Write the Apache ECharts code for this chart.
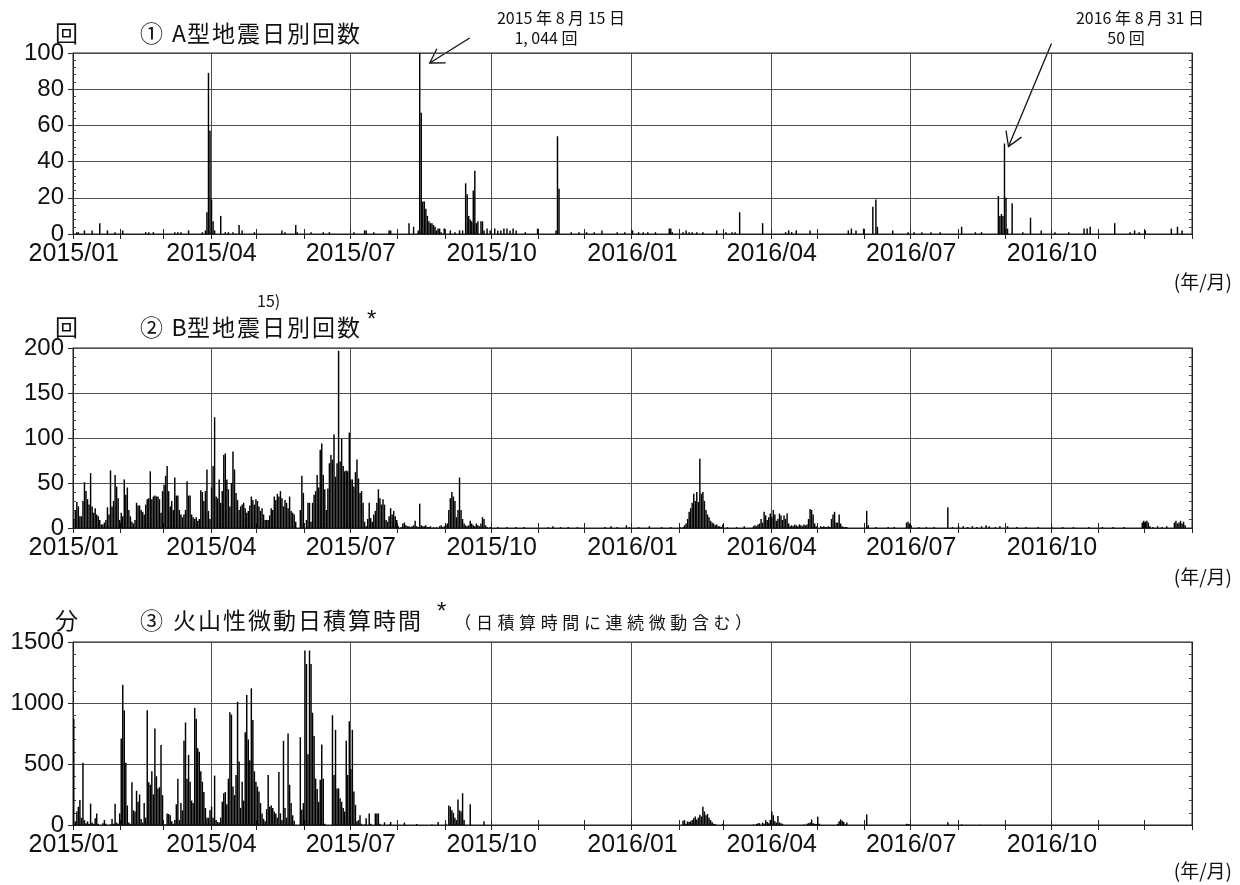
<!DOCTYPE html>
<html>
<head>
<meta charset="utf-8">
<script src="https://cdn.jsdelivr.net/npm/echarts@6/dist/echarts.min.js"></script>
<style>
html, body { margin: 0; padding: 0; background: #fff; }
#chart { width: 1240px; height: 885px; }
</style>
</head>
<body>
<div id="chart"></div>
<script>
// ---------------- Daily observation data (2015-01-01 .. 2016-12-31) ----------------

// (1) A-type earthquakes per day: sparse [date, count] records
const aTypeCounts = [
  ['2015-01-03', 1], ['2015-01-04', 1], ['2015-01-08', 2], ['2015-01-13', 2], ['2015-01-18', 6],
  ['2015-01-23', 2], ['2015-01-28', 1], ['2015-02-02', 2], ['2015-02-17', 1], ['2015-02-19', 1],
  ['2015-02-22', 1], ['2015-03-08', 1], ['2015-03-10', 1], ['2015-03-12', 1], ['2015-03-17', 2],
  ['2015-03-26', 1], ['2015-03-28', 2], ['2015-03-29', 12], ['2015-03-30', 89], ['2015-03-31', 57],
  ['2015-04-01', 19], ['2015-04-02', 7], ['2015-04-03', 2], ['2015-04-07', 10], ['2015-04-10', 1],
  ['2015-04-12', 1], ['2015-04-15', 1], ['2015-04-19', 5], ['2015-04-21', 2], ['2015-04-29', 1],
  ['2015-05-17', 2], ['2015-05-19', 1], ['2015-05-26', 5], ['2015-05-27', 1], ['2015-06-05', 1],
  ['2015-06-13', 1], ['2015-06-17', 1], ['2015-07-03', 1], ['2015-07-10', 2], ['2015-07-11', 2],
  ['2015-07-16', 1], ['2015-07-26', 2], ['2015-07-27', 2], ['2015-08-08', 6], ['2015-08-11', 4],
  ['2015-08-14', 2], ['2015-08-15', 1044], ['2015-08-16', 67], ['2015-08-17', 18], ['2015-08-18', 18],
  ['2015-08-19', 14], ['2015-08-20', 10], ['2015-08-21', 7], ['2015-08-22', 6], ['2015-08-23', 6],
  ['2015-08-24', 5], ['2015-08-25', 4], ['2015-08-26', 2], ['2015-08-27', 3], ['2015-08-28', 3],
  ['2015-08-29', 1], ['2015-08-31', 3], ['2015-09-04', 2], ['2015-09-07', 1], ['2015-09-10', 2],
  ['2015-09-12', 2], ['2015-09-14', 28], ['2015-09-15', 22], ['2015-09-16', 10], ['2015-09-17', 8],
  ['2015-09-18', 7], ['2015-09-19', 24], ['2015-09-20', 35], ['2015-09-21', 6], ['2015-09-22', 7],
  ['2015-09-24', 7], ['2015-09-25', 7], ['2015-09-26', 2], ['2015-09-28', 3], ['2015-09-30', 2],
  ['2015-10-03', 3], ['2015-10-05', 2], ['2015-10-07', 2], ['2015-10-09', 3], ['2015-10-11', 3],
  ['2015-10-13', 2], ['2015-10-15', 3], ['2015-10-17', 2], ['2015-10-23', 1], ['2015-10-31', 3],
  ['2015-11-12', 2], ['2015-11-13', 54], ['2015-11-14', 25], ['2015-11-22', 1], ['2015-11-27', 1],
  ['2015-12-02', 1], ['2015-12-07', 1], ['2015-12-12', 2], ['2015-12-22', 1], ['2015-12-27', 1],
  ['2016-01-01', 2], ['2016-01-05', 1], ['2016-01-08', 1], ['2016-01-11', 1], ['2016-01-16', 1],
  ['2016-01-25', 3], ['2016-01-26', 3], ['2016-01-27', 1], ['2016-02-03', 1], ['2016-02-05', 2],
  ['2016-02-07', 1], ['2016-02-09', 1], ['2016-02-12', 1], ['2016-02-16', 1], ['2016-02-25', 2],
  ['2016-03-02', 1], ['2016-03-06', 1], ['2016-03-08', 1], ['2016-03-11', 12], ['2016-03-26', 6],
  ['2016-04-10', 1], ['2016-04-12', 2], ['2016-04-14', 1], ['2016-04-17', 2], ['2016-04-26', 2],
  ['2016-05-21', 2], ['2016-05-23', 3], ['2016-05-26', 2], ['2016-05-31', 3], ['2016-06-06', 15],
  ['2016-06-08', 19], ['2016-06-09', 4], ['2016-06-19', 2], ['2016-06-29', 1], ['2016-07-03', 1],
  ['2016-07-08', 1], ['2016-07-14', 1], ['2016-07-20', 1], ['2016-08-03', 4], ['2016-08-12', 1],
  ['2016-08-16', 1], ['2016-08-27', 21], ['2016-08-28', 10], ['2016-08-29', 11], ['2016-08-30', 10],
  ['2016-08-31', 50], ['2016-09-01', 20], ['2016-09-02', 3], ['2016-09-05', 17], ['2016-09-12', 1],
  ['2016-09-17', 9], ['2016-09-24', 2], ['2016-10-03', 1], ['2016-10-12', 1], ['2016-10-22', 3],
  ['2016-10-24', 3], ['2016-10-26', 4], ['2016-11-11', 6], ['2016-11-21', 1], ['2016-11-24', 2],
  ['2016-11-27', 1], ['2016-12-01', 2], ['2016-12-18', 3], ['2016-12-22', 4], ['2016-12-25', 2]
];

// (2) B-type earthquakes per day, one array per month of 2015 (Jan..Sep)
const bJan2015 = [10,20,29,24,13,13,30,51,41,32,26,61,24,17,22,15,13,9,4,4,6,9,23,15,64,24,30,59,46,33,9];
const bFeb2015 = [17,13,54,37,45,20,13,7,5,9,28,25,25,20,18,15,26,32,33,63,32,35,36,35,35,32,17,41];
const bMar2015 = [48,58,69,41,24,30,20,56,36,36,20,15,12,15,20,52,36,36,15,12,10,12,8,10,42,40,30,41,65,19,10];
const bApr2015 = [45,69,123,35,33,54,28,41,81,83,54,43,24,50,85,65,39,31,20,24,26,28,22,17,19,25,35,31,26,32];
const bMay2015 = [30,24,19,22,15,9,9,9,14,22,20,35,31,38,35,41,33,24,31,28,22,35,19,17,15,7,0,0,20,58,39];
const bJun2015 = [0,9,28,28,7,28,37,41,59,45,87,94,59,43,20,44,72,81,76,104,57,72,197,74,99,69,63,64,63,106];
const bJul2015 = [54,54,46,62,76,55,39,41,28,7,2,10,28,11,7,15,19,28,43,33,26,32,26,9,7,13,22,15,19,13,9];
const bAug2015 = [2,0,1,5,6,3,2,2,1,2,3,8,2,1,27,3,2,2,3,1,1,2,0,1,0,1,0,2,3,1,2];
const bSep2015 = [3,5,20,33,40,35,30,12,20,56,20,10,5,3,2,3,8,5,3,2,5,3,2,5,12,10,3,1,0,1];
// B-type, 2016 swarm periods (consecutive days from the given start)
const bFeb2016 = [1,0,1,3,5,10,18,22,28,38,30,40,29,77,38,40,30,20,15,12,8,6,5,3,4,2,2,1,4];
const bMarApr2016 = [2,3,2,4,5,10,6,18,14,9,12,16,12,20,15,8,10,16,14,9,14,10,16,5,2,3,2,4,3,2,4,3,2,4,3,4,10,21,20,15,5,2];
const bMay2016 = [2,1,2,1,1,2,1,10,15,18,6,6,15,5,2,1,1,1];
const bLateNov2016 = [6,8,7,8,6,2];
const bDec2016 = [6,8,5,6,8,5,7,3];
// B-type, scattered single days
const bTypeScattered = [
  ['2015-10-05', 1], ['2015-10-11', 1], ['2015-10-17', 1], ['2015-10-22', 1], ['2015-11-07', 1],
  ['2015-11-10', 2], ['2015-11-15', 1], ['2015-11-20', 1], ['2015-11-26', 1], ['2015-12-14', 1],
  ['2015-12-18', 2], ['2015-12-22', 1], ['2015-12-28', 3], ['2015-12-30', 1], ['2016-01-05', 1],
  ['2016-01-12', 2], ['2016-01-20', 1], ['2016-01-26', 1], ['2016-03-03', 1], ['2016-03-09', 1],
  ['2016-03-14', 2], ['2016-06-02', 19], ['2016-06-03', 3], ['2016-06-08', 1], ['2016-06-16', 1],
  ['2016-06-20', 1], ['2016-06-28', 6], ['2016-06-29', 7], ['2016-06-30', 5], ['2016-07-01', 3],
  ['2016-07-06', 1], ['2016-07-11', 1], ['2016-07-16', 1], ['2016-07-25', 23], ['2016-07-28', 1],
  ['2016-08-01', 2], ['2016-08-04', 2], ['2016-08-07', 1], ['2016-08-10', 2], ['2016-08-13', 1],
  ['2016-08-16', 2], ['2016-08-19', 3], ['2016-08-21', 2], ['2016-08-25', 1], ['2016-08-28', 2],
  ['2016-09-02', 2], ['2016-09-08', 1], ['2016-09-14', 1], ['2016-09-22', 1], ['2016-10-01', 1],
  ['2016-10-08', 1], ['2016-10-15', 1], ['2016-10-25', 1], ['2016-11-03', 1], ['2016-11-10', 1],
  ['2016-11-17', 1], ['2016-12-06', 1], ['2016-12-09', 2], ['2016-12-12', 1], ['2016-12-15', 2]
];

// (3) Volcanic tremor, total minutes per day, one array per month of 2015 (Jan..Sep)
const tremorJan2015 = [870,30,110,150,205,60,510,40,15,30,10,175,20,10,55,95,10,0,0,15,40,10,0,0,5,50,10,175,20,10,95];
const tremorFeb2015 = [710,1150,940,510,160,20,10,350,120,110,280,190,250,50,20,180,60,940,350,330,440,250,790,400,300,310,655,245];
const tremorMar2015 = [5,5,95,90,80,30,10,40,170,380,40,180,120,690,840,380,575,355,200,180,960,870,630,600,440,355,270,140,60,60,120];
const tremorApr2015 = [150,60,405,40,25,20,60,190,260,270,170,380,925,905,315,245,410,1010,520,140,355,200,760,1065,700,530,1120,860,440,355];
const tremorMay2015 = [315,275,180,95,50,30,130,410,150,160,140,110,95,60,435,95,40,690,140,60,750,330,180,80,35,0,0,0,720,125,180];
const tremorJun2015 = [1430,1320,580,1430,1320,920,730,380,295,190,370,660,380,10,0,0,0,0,900,410,780,300,300,220,190,140,110,690,410,850];
const tremorJul2015 = [460,780,275,165,30,40,80,10,0,5,55,0,95,10,0,0,95,95,95,10,0,0,22,0,0,5,25,0,0,0,0];
const tremorAug2015 = [0,0,0,0,20,0,0,0,0,0,0,0,8,0,0,0,0,0,0,0,0,0,5,0,0,0,25,0,0,0,0];
const tremorSep2015 = [10,0,160,150,120,100,60,40,210,120,110,260,40,0,0,0,170,0,0,0,0,0,0,0,0,30,0,0,0,0];
// Tremor, 2016 active periods
const tremorFeb2016 = [35,40,10,30,25,30,40,55,70,45,60,85,70,150,110,80,90,60,40,25,10,8];
const tremorMarMay2016 = [5,0,8,15,15,0,20,10,40,25,15,40,110,80,30,20,74,20,15,10,0,0,0,0,0,0,0,0,0,0,0,0,0,5,0,10,15,20,45,15,10,8,68,10];
const tremorMidMay2016 = [10,30,46,35,25,5,20];
const tremorScattered = [
  ['2016-02-29', 10], ['2016-06-02', 87], ['2016-06-28', 10], ['2016-06-29', 8], ['2016-06-30', 5],
  ['2016-07-25', 22], ['2016-08-03', 5], ['2016-08-15', 3]
];

// Axis tick values
const yTicksA = { max: 100, step: 20 };
const yTicksB = { max: 200, step: 50 };
const yTicksT = { max: 1500, step: 500 };

// ---------------- Calendar helpers ----------------
const DAY_MS = 86400000;
const START = Date.UTC(2015, 0, 1);
const END = Date.UTC(2017, 0, 1);
const dayTimes = [];
for (let t = START; t < END; t += DAY_MS) dayTimes.push(t);
const pad2 = n => String(n).padStart(2, '0');
const dayNames = dayTimes.map(t => {
  const d = new Date(t);
  return d.getUTCFullYear() + '/' + pad2(d.getUTCMonth() + 1) + '/' + pad2(d.getUTCDate());
});
const monthStart = dayTimes.map(t => new Date(t).getUTCDate() === 1);
const quarterStart = dayTimes.map(t => {
  const d = new Date(t);
  return d.getUTCDate() === 1 && d.getUTCMonth() % 3 === 0;
});
function dayIndex(iso) {
  const [y, m, d] = iso.split('-').map(Number);
  return Math.round((Date.UTC(y, m - 1, d) - START) / DAY_MS);
}
function buildDaily(runs, points) {
  const out = new Array(dayTimes.length).fill(0);
  runs.forEach(([start, vals]) => {
    const i0 = dayIndex(start);
    vals.forEach((v, i) => { out[i0 + i] = v; });
  });
  points.forEach(([iso, v]) => { out[dayIndex(iso)] = v; });
  return out;
}

const seriesA = buildDaily([], aTypeCounts);
const seriesB = buildDaily([
  ['2015-01-01', bJan2015], ['2015-02-01', bFeb2015], ['2015-03-01', bMar2015],
  ['2015-04-01', bApr2015], ['2015-05-01', bMay2015], ['2015-06-01', bJun2015],
  ['2015-07-01', bJul2015], ['2015-08-01', bAug2015], ['2015-09-01', bSep2015],
  ['2016-02-01', bFeb2016], ['2016-03-20', bMarApr2016], ['2016-05-03', bMay2016],
  ['2016-11-29', bLateNov2016], ['2016-12-20', bDec2016]
], bTypeScattered);
const seriesT = buildDaily([
  ['2015-01-01', tremorJan2015], ['2015-02-01', tremorFeb2015], ['2015-03-01', tremorMar2015],
  ['2015-04-01', tremorApr2015], ['2015-05-01', tremorMay2015], ['2015-06-01', tremorJun2015],
  ['2015-07-01', tremorJul2015], ['2015-08-01', tremorAug2015], ['2015-09-01', tremorSep2015],
  ['2016-02-03', tremorFeb2016], ['2016-03-20', tremorMarMay2016], ['2016-05-14', tremorMidMay2016]
], tremorScattered);

// ---------------- Chart layout ----------------
const NUM_FONT = '"Liberation Sans", Arial, sans-serif';
const JP_FONT = '"Noto Sans CJK JP", "Noto Sans CJK SC", sans-serif';
const INK = '#111';
const GRID_LINE = '#4d4d4d';

const panels = [
  { top: 53, height: 181, ticks: yTicksA, data: seriesA },
  { top: 348, height: 180, ticks: yTicksB, data: seriesB },
  { top: 642, height: 183, ticks: yTicksT, data: seriesT }
];

const grids = [], xAxes = [], yAxes = [], series = [];
panels.forEach((p, gi) => {
  grids.push({ left: 73, right: 48, top: p.top, height: p.height, show: true,
    borderColor: '#222', borderWidth: 1, containLabel: false, outerBoundsMode: 'none' });
  // bottom axis: quarter labels, month ticks, quarter grid lines
  xAxes.push({
    type: 'category', gridIndex: gi, position: 'bottom', data: dayNames, boundaryGap: true,
    axisLine: { show: true, lineStyle: { color: '#222', width: 1 } },
    axisTick: { show: true, interval: i => monthStart[i], length: 5, lineStyle: { color: '#222' } },
    axisLabel: { show: true, interval: i => quarterStart[i], formatter: v => v.slice(0, 7),
      fontFamily: NUM_FONT, fontSize: 25, color: INK, margin: 8 },
    splitLine: { show: true, interval: i => quarterStart[i], lineStyle: { color: GRID_LINE, width: 1 } }
  });
  // top axis: month ticks only
  xAxes.push({
    type: 'category', gridIndex: gi, position: 'top', data: dayNames, boundaryGap: true,
    axisLine: { show: true, lineStyle: { color: '#222', width: 1 } },
    axisTick: { show: true, interval: i => monthStart[i], length: 5, lineStyle: { color: '#222' } },
    axisLabel: { show: false }, splitLine: { show: false }
  });
  const common = { type: 'value', gridIndex: gi, min: 0, max: p.ticks.max, interval: p.ticks.step };
  yAxes.push(Object.assign({}, common, {
    position: 'left',
    axisLine: { show: true, lineStyle: { color: '#222' } },
    axisTick: { show: true, length: 5, lineStyle: { color: '#222' } },
    axisLabel: { fontFamily: NUM_FONT, fontSize: 24, color: INK, margin: 9, formatter: v => String(v) },
    splitLine: { show: true, lineStyle: { color: GRID_LINE, width: 1 } }
  }));
  yAxes.push(Object.assign({}, common, {
    position: 'left',
    axisLine: { show: false }, axisTick: { show: false, inside: true },
    axisLabel: { show: false }, splitLine: { show: false },
    minorTick: { show: true, splitNumber: 5, length: 3, lineStyle: { color: '#444' } }
  }));
  yAxes.push(Object.assign({}, common, {
    position: 'right',
    axisLine: { show: true, lineStyle: { color: '#222' } }, axisTick: { show: false, inside: true },
    axisLabel: { show: false }, splitLine: { show: false },
    minorTick: { show: true, splitNumber: 5, length: 3, lineStyle: { color: '#444' } }
  }));
  series.push({
    type: 'bar', xAxisIndex: gi * 2, yAxisIndex: gi * 3, data: p.data,
    barWidth: 1.45, clip: true, itemStyle: { color: '#000' }, silent: true
  });
});

// ---------------- Captions ----------------
function txt(x, y, text, size, opts) {
  const extra = Object.assign({}, opts || {});
  const family = extra.fontFamily || JP_FONT;
  delete extra.fontFamily;
  return { type: 'text', x, y, silent: true,
    style: Object.assign({ text, fontFamily: family, fontSize: size, fill: INK,
      verticalAlign: 'middle', align: 'left' }, extra) };
}
// text set one character per cell; half-width characters take half a cell
function cellText(x0, y, text, size, pitch) {
  const out = [];
  let x = x0;
  Array.from(text).forEach(ch => {
    const w = ch.charCodeAt(0) < 0x2000 ? pitch * 0.56 : pitch;
    out.push(txt(x + w / 2, y, ch, size, { align: 'center' }));
    x += w;
  });
  return out;
}
const TITLE = 23, PITCH = 25;
function panelTitle(y, unit, mark, body) {
  return [txt(55, y, unit, TITLE), txt(140, y, mark, TITLE)]
    .concat(cellText(172, y, body, TITLE, PITCH));
}
const captions = [].concat(
  // panel 1
  panelTitle(33, '回', '①', 'A型地震日別回数'),
  [txt(1232, 282, '(年/月)', 19, { align: 'right' })],
  // panel 2
  [txt(257, 301, '15)', 16)],
  panelTitle(327, '回', '②', 'B型地震日別回数'),
  [txt(367, 320, '*', 24, { fontFamily: NUM_FONT }),
   txt(1232, 577, '(年/月)', 19, { align: 'right' })],
  // panel 3
  panelTitle(620, '分', '③', '火山性微動日積算時間'),
  [txt(437, 612, '*', 24, { fontFamily: NUM_FONT }),
   txt(1232, 871, '(年/月)', 19, { align: 'right' })],
  cellText(452, 623, '（日積算時間に連続微動含む）', 17, 21.6),
  // event notes
  [txt(561, 18, '2015 年 8 月 15 日', 16, { align: 'center' }),
   txt(546, 38, '1, 044 回', 16, { align: 'center' }),
   txt(1140, 18, '2016 年 8 月 31 日', 16, { align: 'center' }),
   txt(1126, 38, '50 回', 16, { align: 'center' })]
);

const chart = echarts.init(document.getElementById('chart'), null, { renderer: 'canvas' });
chart.setOption({
  animation: false,
  backgroundColor: '#fff',
  grid: grids, xAxis: xAxes, yAxis: yAxes, series,
  graphic: captions
});

// arrows pointing to the annotated bars, anchored at each bar's top
function arrowShapes(tip, tail) {
  const ang = Math.atan2(tail[1] - tip[1], tail[0] - tip[0]);
  const L = 16, spread = 0.55;
  const h1 = [tip[0] + L * Math.cos(ang + spread), tip[1] + L * Math.sin(ang + spread)];
  const h2 = [tip[0] + L * Math.cos(ang - spread), tip[1] + L * Math.sin(ang - spread)];
  const ls = { stroke: '#111', lineWidth: 1.3, fill: null };
  return [
    { type: 'polyline', silent: true, shape: { points: [tail, tip] }, style: ls },
    { type: 'polyline', silent: true, shape: { points: [h1, tip, h2] }, style: ls }
  ];
}
function barTop(panel, iso) {
  const i = dayIndex(iso);
  const v = Math.min(panels[panel].data[i], panels[panel].ticks.max);
  return chart.convertToPixel({ xAxisIndex: panel * 2, yAxisIndex: panel * 3 }, [i, v]);
}
const topA1 = barTop(0, '2015-08-15');
const topA2 = barTop(0, '2016-08-31');
const arrows = []
  .concat(arrowShapes([topA1[0] + 10, topA1[1] + 10], [topA1[0] + 50, topA1[1] - 15]))
  .concat(arrowShapes([topA2[0] + 4, topA2[1] + 3], [topA2[0] + 47, topA2[1] - 100]));
chart.setOption({ graphic: captions.concat(arrows) });
</script>
</body>
</html>
